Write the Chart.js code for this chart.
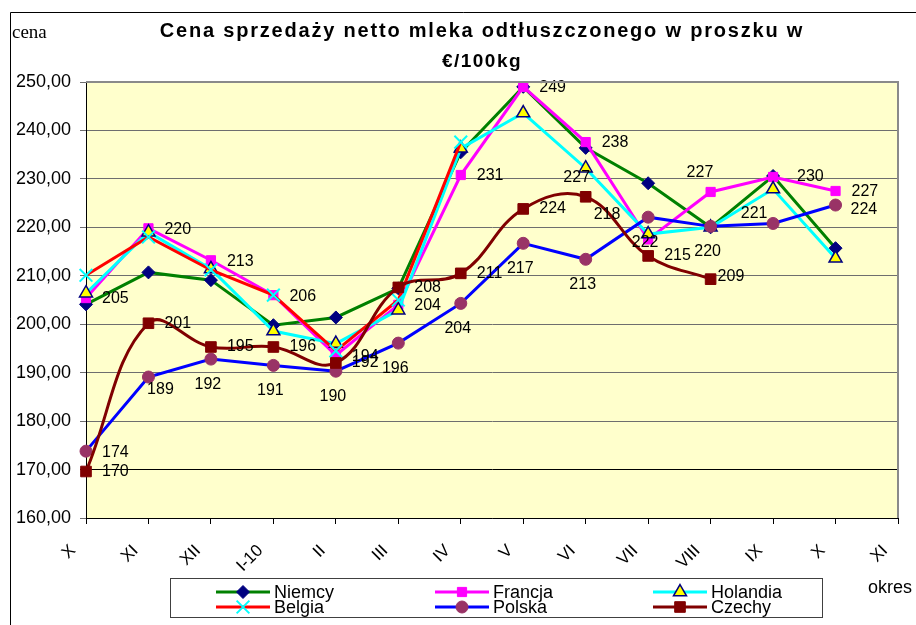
<!DOCTYPE html>
<html>
<head>
<meta charset="utf-8">
<script src="https://cdn.jsdelivr.net/npm/chart.js@4.4.1/dist/chart.umd.min.js"></script>
<style>
  html, body { margin: 0; padding: 0; background: #fff; }
  #wrap { width: 916px; height: 625px; }
</style>
</head>
<body>
<div id="wrap"><canvas id="chart" width="916" height="625"></canvas></div>
<script>
const months = ['X', 'XI', 'XII', 'I-10', 'II', 'III', 'IV', 'V', 'VI', 'VII', 'VIII', 'IX', 'X', 'XI'];
const yTicks = [160, 170, 180, 190, 200, 210, 220, 230, 240, 250];

const niemcy   = [204.1, 210.7, 209.1, 199.8, 201.4, 207.4, 235.5, 249.0, 236.4, 229.1, 220.0, 230.6, 215.7, null];
const francja  = [205.4, 219.8, 213.2, 206.0, 193.6, 204.0, 230.8, 249.0, 237.6, 217.5, 227.3, 230.4, 227.5, null];
const holandia = [206.4, 219.0, 211.4, 198.6, 196.0, 202.9, 236.3, 243.6, 232.2, 218.6, 220.0, 227.9, 213.6, null];
const belgia   = [210.1, 218.0, 211.2, 206.0, 194.5, 205.0, 237.6, null, null, null, null, null, null, null];
const polska   = [173.8, 189.1, 192.8, 191.5, 190.3, 196.1, 204.3, 216.7, 213.4, 222.1, 220.2, 220.8, 224.6, null];
const czechy   = [169.6, 200.2, 195.3, 195.3, 192.0, 207.6, 210.5, 223.8, 226.3, 214.1, 209.3, null, null, null];

// data labels as printed on the chart
const francjaLabels  = ['205', '220', '213', '206', '194', '204', '231', '249', '238', null, '227', '230', '227', null];
const czechyLabels   = ['170', '201', '195', '196', '192', '208', '211', '224', '218', '215', '209', null, null, null];
const polskaLabels   = ['174', '189', '192', '191', '190', '196', '204', '217', '213', '222', '220', '221', '224', null];
const holandiaLabels = [null, null, null, null, null, null, null, null, '227', null, null, null, null, null];

const SANS = '"Liberation Sans", Arial, sans-serif';

// where labels sit relative to their point
const labelCfg = {
  Francja:  { labels: francjaLabels,  align: 'left',   dx: 16, dy: 1 },
  Czechy:   { labels: czechyLabels,   align: 'left',   dx: 16, dy: 0 },
  Polska:   { labels: polskaLabels,   align: 'center', dx: -3, dy: 25 },
  Holandia: { labels: holandiaLabels, align: 'center', dx: -9, dy: 9 }
};
const labelNudge = {
  'Francja:10': ['left', -24, -19],
  'Francja:11': ['left', 24, 0],
  'Czechy:8':   ['left', 8, 18],
  'Czechy:10':  ['left', 7, -3],
  'Polska:0':   ['left', 16, 1],
  'Polska:1':   ['center', 12, 13],
  'Polska:11':  ['center', -19, -10],
  'Polska:12':  ['left', 15, 5]
};

function drawMarker(ctx, style, x, y, r, fill, stroke, bw) {
  ctx.save();
  ctx.beginPath();
  if (style === 'rectRot') {
    ctx.moveTo(x, y - r); ctx.lineTo(x + r, y); ctx.lineTo(x, y + r); ctx.lineTo(x - r, y); ctx.closePath();
  } else if (style === 'rect') {
    const s = r * Math.SQRT1_2;
    ctx.rect(x - s, y - s, 2 * s, 2 * s);
  } else if (style === 'triangle') {
    ctx.moveTo(x, y - r);
    ctx.lineTo(x + r * 0.866, y + r * 0.5);
    ctx.lineTo(x - r * 0.866, y + r * 0.5);
    ctx.closePath();
  } else if (style === 'circle') {
    ctx.arc(x, y, r, 0, Math.PI * 2);
  } else if (style === 'crossRot') {
    const s = r * Math.SQRT1_2;
    ctx.moveTo(x - s, y - s); ctx.lineTo(x + s, y + s);
    ctx.moveTo(x + s, y - s); ctx.lineTo(x - s, y + s);
  }
  if (style !== 'crossRot') { ctx.fillStyle = fill; ctx.fill(); }
  if (bw) { ctx.lineWidth = bw; ctx.strokeStyle = stroke; ctx.stroke(); }
  ctx.restore();
}

const plotBg = {
  id: 'plotBg',
  beforeDraw(chart) {
    const { ctx, chartArea: a } = chart;
    ctx.save();
    ctx.fillStyle = '#fff';
    ctx.fillRect(0, 0, chart.width, chart.height);
    ctx.fillStyle = '#FFFFCC';
    ctx.fillRect(a.left, a.top, a.right - a.left, a.bottom - a.top);
    ctx.restore();
  }
};

// slanted month labels under the x axis, placed from the category scale
const monthLabels = {
  id: 'monthLabels',
  afterDraw(chart) {
    const { ctx } = chart;
    const xs = chart.scales.x;
    ctx.save();
    ctx.fillStyle = '#000';
    ctx.font = '17px ' + SANS;
    ctx.textAlign = 'right';
    ctx.textBaseline = 'middle';
    months.forEach((m, i) => {
      const x = xs.getPixelForTick(i) - 13;
      const y = xs.top + 30;
      ctx.save();
      ctx.translate(x, y);
      ctx.rotate(-Math.PI / 4);
      ctx.fillText(m, 0, 0);
      ctx.restore();
    });
    ctx.restore();
  }
};

const dataLabels = {
  id: 'dataLabels',
  afterDatasetsDraw(chart) {
    const ctx = chart.ctx;
    ctx.save();
    ctx.font = '16px ' + SANS;
    ctx.fillStyle = '#000';
    ctx.textBaseline = 'middle';
    chart.data.datasets.forEach((ds, i) => {
      const cfg = labelCfg[ds.label];
      if (!cfg) return;
      const meta = chart.getDatasetMeta(i);
      cfg.labels.forEach((txt, j) => {
        if (txt == null) return;
        const pt = meta.data[j];
        const n = labelNudge[ds.label + ':' + j];
        const align = n ? n[0] : cfg.align;
        const dx = n ? n[1] : cfg.dx;
        const dy = n ? n[2] : cfg.dy;
        ctx.textAlign = align;
        ctx.fillText(txt, pt.x + dx, pt.y + dy);
      });
    });
    ctx.restore();
  }
};

const decorations = {
  id: 'decorations',
  afterDraw(chart) {
    const { ctx, chartArea: a } = chart;
    ctx.save();
    // plot border, top and right
    ctx.strokeStyle = '#8a8a8a';
    ctx.lineWidth = 2;
    ctx.beginPath();
    ctx.moveTo(a.left, a.top); ctx.lineTo(a.right, a.top); ctx.lineTo(a.right, a.bottom);
    ctx.stroke();

    // outer frame
    ctx.strokeStyle = '#000';
    ctx.lineWidth = 1;
    ctx.beginPath();
    ctx.moveTo(10.5, 625); ctx.lineTo(10.5, 12.5); ctx.lineTo(916, 12.5);
    ctx.stroke();

    // title
    ctx.fillStyle = '#000';
    ctx.textAlign = 'center';
    ctx.textBaseline = 'middle';
    ctx.font = 'bold 20px ' + SANS;
    ctx.letterSpacing = '1.8px';
    ctx.fillText('Cena sprzedaży netto mleka odtłuszczonego w proszku w', 482, 31);
    ctx.font = 'bold 19px ' + SANS;
    ctx.letterSpacing = '1.5px';
    ctx.fillText('€/100kg', 482, 62);
    ctx.letterSpacing = '0px';

    // axis captions
    ctx.textAlign = 'left';
    ctx.font = '19px "Liberation Serif", "Times New Roman", serif';
    ctx.fillText('cena', 12, 33);
    ctx.font = '18px ' + SANS;
    ctx.fillText('okres', 868, 588);

    // legend
    ctx.strokeStyle = '#404040';
    ctx.lineWidth = 1;
    ctx.strokeRect(170.5, 578.5, 652, 39);
    const cols = [216, 435, 653];
    const rows = [592, 607];
    chart.data.datasets.forEach((ds, i) => {
      const x0 = cols[i % 3];
      const y = rows[Math.floor(i / 3)];
      ctx.strokeStyle = ds.borderColor;
      ctx.lineWidth = 3;
      ctx.beginPath();
      ctx.moveTo(x0, y); ctx.lineTo(x0 + 54, y);
      ctx.stroke();
      drawMarker(ctx, ds.pointStyle, x0 + 27, y, ds.pointRadius, ds.pointBackgroundColor, ds.pointBorderColor, ds.pointBorderWidth);
      ctx.fillStyle = '#000';
      ctx.font = '18px ' + SANS;
      ctx.textAlign = 'left';
      ctx.fillText(ds.label, x0 + 58, y + 1);
    });
    ctx.restore();
  }
};

const ctx = document.getElementById('chart').getContext('2d');
new Chart(ctx, {
  type: 'line',
  data: {
    labels: months,
    datasets: [
      { label: 'Niemcy', data: niemcy, borderColor: '#008000', borderWidth: 3,
        pointStyle: 'rectRot', pointRadius: 6.5, pointBackgroundColor: '#000080', pointBorderColor: '#000080', pointBorderWidth: 1, order: 6 },
      { label: 'Francja', data: francja, borderColor: '#FF00FF', borderWidth: 3,
        pointStyle: 'rect', pointRadius: 6.5, pointBackgroundColor: '#FF00FF', pointBorderColor: '#FF00FF', pointBorderWidth: 1, order: 5 },
      { label: 'Holandia', data: holandia, borderColor: '#00FFFF', borderWidth: 3,
        pointStyle: 'triangle', pointRadius: 7.5, pointBackgroundColor: '#FFFF00', pointBorderColor: '#000080', pointBorderWidth: 1.5, order: 4 },
      { label: 'Belgia', data: belgia, borderColor: '#FF0000', borderWidth: 3,
        pointStyle: 'crossRot', pointRadius: 9, pointBackgroundColor: '#00FFFF', pointBorderColor: '#00FFFF', pointBorderWidth: 2, order: 3 },
      { label: 'Polska', data: polska, borderColor: '#0000FF', borderWidth: 3,
        pointStyle: 'circle', pointRadius: 6, pointBackgroundColor: '#993366', pointBorderColor: '#993366', pointBorderWidth: 1, order: 2 },
      { label: 'Czechy', data: czechy, borderColor: '#800000', borderWidth: 3, tension: 0.4,
        pointStyle: 'rect', pointRadius: 7.5, pointBackgroundColor: '#800000', pointBorderColor: '#800000', pointBorderWidth: 1, order: 1 }
    ]
  },
  options: {
    responsive: false,
    animation: false,
    devicePixelRatio: 1,
    layout: { padding: { top: 82, right: 18, left: 0, bottom: 0 } },
    plugins: {
      legend: { display: false },
      title: { display: false },
      tooltip: { enabled: false }
    },
    scales: {
      x: {
        offset: false,
        grid: { drawOnChartArea: false, drawTicks: true, tickLength: 6, color: '#000' },
        border: { display: true, color: '#000', width: 1 },
        ticks: { display: false, autoSkip: false },
        afterFit: s => { s.height = 107; }
      },
      y: {
        min: 160,
        max: 250,
        afterBuildTicks: s => { s.ticks = yTicks.map(v => ({ value: v })); },
        grid: { color: c => (c.tick && c.tick.value === 170 ? '#000' : '#6e6e6e'), tickLength: 6 },
        border: { display: true, color: '#000', width: 1 },
        ticks: { padding: 9, color: '#000', font: { family: SANS, size: 18 },
                 callback: v => v.toFixed(2).replace('.', ',') },
        afterFit: s => { s.width = 86; }
      }
    }
  },
  plugins: [plotBg, monthLabels, dataLabels, decorations]
});
</script>
</body>
</html>
